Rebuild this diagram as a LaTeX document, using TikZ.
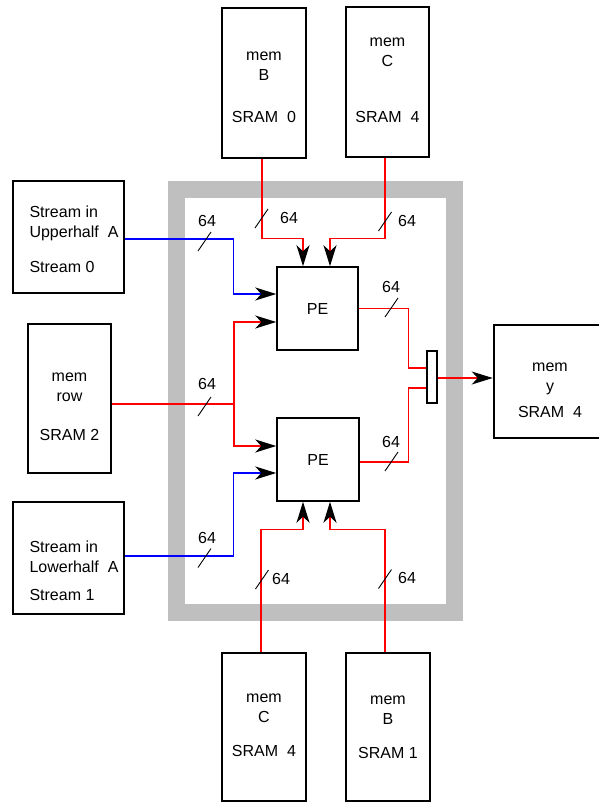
\documentclass[tikz,border=0pt]{standalone}
\usepackage{fontspec}
\setmainfont{Liberation Sans}
\usetikzlibrary{arrows.meta}

% bus width mark: name, centre of the tick, label position
\newcommand{\wbus}[3]{%
  \draw[tick] #2 ++(-6.5,9.5) -- ++(13,-19);
  \node[wlab] (#1) at #3 {64};}

\begin{document}
\begin{tikzpicture}[
    x=1pt, y=-1pt,
    every node/.style={font=\fontsize{16}{20}\selectfont},
    mem/.style={draw, line width=2.6pt, inner sep=0pt, minimum width=84pt, minimum height=150pt},
    txt/.style={align=center, inner sep=0pt},
    pe/.style={draw, line width=1.5pt, minimum width=81pt, minimum height=83pt, inner sep=0pt},
    tick/.style={line width=0.9pt},
    wlab/.style={inner sep=1pt},
    rw/.style={red, line width=1.2pt},
    bw/.style={blue, line width=1.2pt},
    arr/.style={-{Stealth[length=21pt, width=13pt, inset=6pt, color=black]}}
]
\useasboundingbox (0,0) rectangle (598,802);

% chip outline
\node[draw=black!25, line width=17pt, minimum width=278pt, minimum height=423pt, inner sep=0pt] (chip) at (315.5,401) {};

% memories and streams
\node[mem, label={[txt, yshift=-4.5pt]center:{mem\\B\\[22pt]SRAM\ \ 0}}] (memBt) at (264,83) {};
\node[mem, minimum width=83pt, label={[txt, yshift=2pt]center:{mem\\C\\[36pt]SRAM\ \ 4}}] (memCt) at (387.5,82) {};
\node[mem, minimum width=111pt, minimum height=112pt,
  label={[txt, align=left, xshift=5.5pt, yshift=-2.5pt]center:{Stream in\\Upperhalf\ \ A\\[15pt]Stream 0}}] (strU) at (68.5,237) {};
\node[mem, minimum width=83pt, minimum height=149pt, label={[txt, yshift=-8.5pt]center:{mem\\row\\[19pt]SRAM 2}}] (memR) at (69.5,398.5) {};
\node[mem, minimum width=111pt, minimum height=112pt,
  label={[txt, align=left, xshift=5.5pt, yshift=-13pt]center:{Stream in\\Lowerhalf\ \ A\\[8pt]Stream 1}}] (strL) at (68.5,558) {};
\node[mem, minimum width=112pt, minimum height=113pt, label={[txt, yshift=-8.5pt]center:{mem\\y\\[6pt]SRAM\ \ 4}}] (memY) at (550,381.5) {};
\node[mem, minimum height=148pt, label={[txt, yshift=1.5pt]center:{mem\\C\\[14pt]SRAM\ \ 4}}] (memCb) at (264,727) {};
\node[mem, minimum height=148pt, label={[txt, yshift=-0.5pt]center:{mem\\B\\[14pt]SRAM 1}}] (memBb) at (388,727) {};

% processing elements and merge
\node[pe] (PEu) at (317.5,308.5) {PE};
\node[pe, minimum width=82pt] (PEl) at (318,459.5) {PE};
\node[draw, line width=1.2pt, minimum width=10pt, minimum height=52pt, inner sep=0pt] (mux) at (432,377) {};

\coordinate (tB) at ([xshift=-14.5pt]PEu.north);
\coordinate (tC) at ([xshift=12.5pt]PEu.north);
\coordinate (lU1) at ([yshift=14.5pt]PEu.west);
\coordinate (lU2) at ([yshift=-13.5pt]PEu.west);
\coordinate (lL1) at ([yshift=13.5pt]PEl.west);
\coordinate (lL2) at ([yshift=-13.5pt]PEl.west);
\coordinate (bC) at ([xshift=-15pt]PEl.south);
\coordinate (bB) at ([xshift=12pt]PEl.south);
\coordinate (rowbus) at (234,404);
\coordinate (mo) at ([yshift=-1pt]mux.east);

% wires
\draw[rw, arr] ([xshift=-2pt]memBt.south) |- ([yshift=28pt]tB) -- (tB);
\draw[rw, arr] ([xshift=-2.5pt]memCt.south) |- ([yshift=28pt]tC) -- (tC);
\draw[bw, arr] ([yshift=-2pt]strU.east) -| ([xshift=-43pt]lU1) -- (lU1);
\draw[rw] (memR.east |- rowbus) -- (rowbus);
\draw[rw, arr] (rowbus) |- (lU2);
\draw[rw, arr] (rowbus) |- (lL1);
\draw[bw, arr] ([yshift=2pt]strL.east) -| ([xshift=-43pt]lL2) -- (lL2);
\draw[rw, arr] ([xshift=-3pt]memCb.north) |- ([yshift=-28pt]bC) -- (bC);
\draw[rw, arr] ([xshift=-3pt]memBb.north) |- ([yshift=-28pt]bB) -- (bB);
\draw[rw] (PEu.east) -| ([xshift=-18pt, yshift=9pt]mux.west) -- ([yshift=9pt]mux.west);
\draw[rw] ([yshift=-2.5pt]PEl.east) -| ([xshift=-18pt, yshift=-11pt]mux.west) -- ([yshift=-11pt]mux.west);
\draw[rw, arr] (mo) -- (mo -| memY.west);

% bus widths
\wbus{wBt}{(261.5,218.5)}{(289,218)}
\wbus{wCt}{(385,221.5)}{(407,221)}
\wbus{wSU}{(204.5,241.5)}{(207,221)}
\wbus{wR}{(204.5,406.5)}{(207,384)}
\wbus{wSL}{(204.5,558)}{(207,538)}
\wbus{wCb}{(262,579.5)}{(281,579)}
\wbus{wBb}{(385,579)}{(407,578)}
\wbus{wPu}{(391.5,307.5)}{(391,287)}
\wbus{wPl}{(391.5,461.5)}{(391,442)}
\end{tikzpicture}
\end{document}
